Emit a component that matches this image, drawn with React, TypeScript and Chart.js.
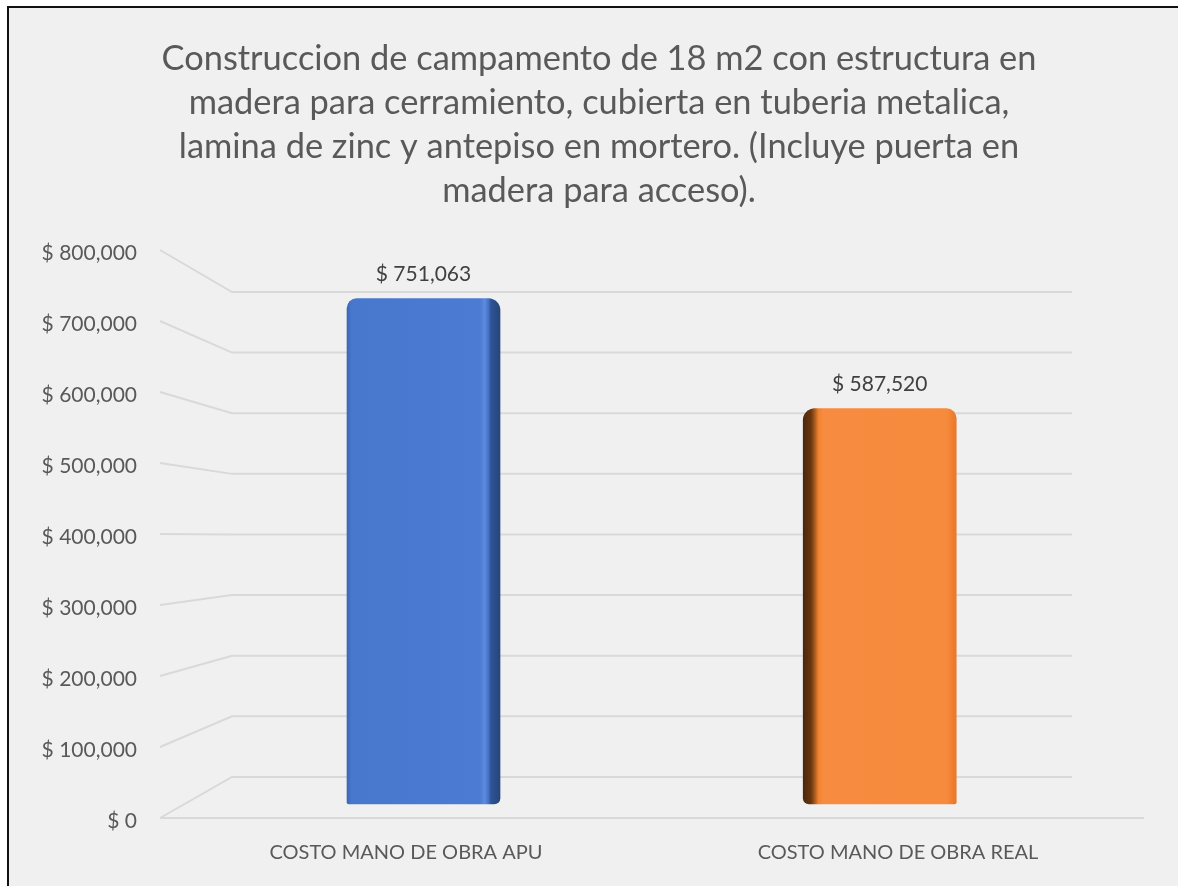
import React, { useEffect, useRef } from 'react';
import { Chart, registerables } from 'chart.js';

Chart.register(...registerables);

// ---------- data ----------
const TITLE_LINES = [
  'Construccion de campamento de 18 m2 con estructura en',
  'madera para cerramiento, cubierta en tuberia metalica,',
  'lamina de zinc y antepiso en mortero. (Incluye puerta en',
  'madera para acceso).',
];
const CATEGORIES = ['COSTO MANO DE OBRA APU', 'COSTO MANO DE OBRA REAL'];
const COSTS = [751063, 587520];
const Y_MIN = 0;
const Y_MAX = 800000;
const Y_STEP = 100000;

// ---------- styles ----------
const FONT = 'Lato, "Open Sans", sans-serif';
const TEXT_GREY = '#595959';
const LABEL_DARK = '#404040';
const GRID = '#d9d9d9';
const BAR_W = 153;
const WALL_DEPTH_X = 72;
const FLAT_COLORS = ['#4979d0', '#f68a3d'];
const BAR_STOPS: [number, string][][] = [
  [
    [0, '#3a67b8'],
    [0.03, '#4878cd'],
    [0.5, '#4979d0'],
    [0.87, '#4b7bd3'],
    [0.9, '#5d8cdc'],
    [0.925, '#4372c6'],
    [0.94, '#2f5596'],
    [1, '#26457b'],
  ],
  [
    [0, '#4d2709'],
    [0.05, '#673611'],
    [0.075, '#a9581b'],
    [0.1, '#f08330'],
    [0.13, '#f78c40'],
    [0.94, '#f68a3d'],
    [0.975, '#ef7f2f'],
    [1, '#e8772a'],
  ],
];
const BAR_RADII = [
  { topLeft: 10, topRight: 12, bottomLeft: 2, bottomRight: 6 },
  { topLeft: 12, topRight: 10, bottomLeft: 6, bottomRight: 2 },
];

const money = (v: number) => '$ ' + Math.round(v).toLocaleString('en-US');

const perspectiveGrid = {
  id: 'perspectiveGrid',
  beforeDatasetsDraw(chart: any) {
    const { ctx, chartArea } = chart;
    const yF = chart.scales.y;
    const yB = chart.scales.yBack;
    const left = chartArea.left;
    const right = chartArea.right;
    const backL = left + WALL_DEPTH_X;
    const backR = right - WALL_DEPTH_X;
    ctx.save();
    ctx.strokeStyle = GRID;
    ctx.lineWidth = 2;
    yF.ticks.forEach((t: any) => {
      const yf = yF.getPixelForValue(t.value);
      const yb = yB.getPixelForValue(t.value);
      ctx.beginPath();
      ctx.moveTo(left, yf);
      ctx.lineTo(backL, yb);
      ctx.lineTo(backR, yb);
      ctx.stroke();
    });
    const y0 = yF.getPixelForValue(Y_MIN);
    ctx.beginPath();
    ctx.moveTo(left, y0);
    ctx.lineTo(right, y0);
    ctx.stroke();
    ctx.restore();
  },
};

const valueLabels = {
  id: 'valueLabels',
  afterDatasetsDraw(chart: any) {
    const { ctx } = chart;
    const meta = chart.getDatasetMeta(0);
    ctx.save();
    ctx.font = `21px ${FONT}`;
    ctx.fillStyle = LABEL_DARK;
    ctx.textAlign = 'center';
    ctx.textBaseline = 'middle';
    meta.data.forEach((el: any, i: number) => {
      ctx.fillText(money(COSTS[i]), el.x, el.y - 24);
    });
    ctx.restore();
  },
};

export default function App() {
  const ref = useRef<HTMLCanvasElement | null>(null);

  useEffect(() => {
    if (!ref.current) return;
    const chart = new Chart(ref.current, {
      type: 'bar',
      data: {
        labels: CATEGORIES,
        datasets: [
          {
            data: COSTS.map((v, i) => ({ x: i, y: v })) as any,
            xAxisID: 'xb',
            yAxisID: 'yb',
            barThickness: BAR_W,
            borderRadius: (c: any) => BAR_RADII[c.dataIndex] || 0,
            borderSkipped: false,
            backgroundColor: (c: any) => {
              const ch = c.chart;
              const i = c.dataIndex || 0;
              const xs = ch.scales && ch.scales.xb;
              if (!xs || c.type !== 'data') return FLAT_COLORS[i];
              const cx = xs.getPixelForValue(i);
              if (!isFinite(cx)) return FLAT_COLORS[i];
              const g = ch.ctx.createLinearGradient(cx - BAR_W / 2, 0, cx + BAR_W / 2, 0);
              BAR_STOPS[i].forEach(([o, col]) => g.addColorStop(o, col));
              return g;
            },
          },
        ],
      },
      options: {
        responsive: false,
        animation: false,
        events: [],
        layout: { padding: { left: 0, right: 0, top: 0, bottom: 0 } },
        plugins: {
          legend: { display: false },
          tooltip: { enabled: false },
          title: {
            display: true,
            text: TITLE_LINES,
            color: TEXT_GREY,
            font: { family: FONT, size: 34.4, weight: 'normal', lineHeight: 44 / 34.4 },
            padding: { top: 29, bottom: 37 },
          },
        },
        scales: {
          x: {
            type: 'category',
            offset: true,
            grid: { display: false, drawTicks: false },
            border: { display: false },
            ticks: {
              color: TEXT_GREY,
              font: { family: FONT, size: 20 },
              padding: 23,
              maxRotation: 0,
            },
            afterFit: (s: any) => {
              s.height = 68;
            },
          },
          xb: {
            type: 'linear',
            display: false,
            offset: false,
            grid: { offset: false },
            min: -0.5776,
            max: 1.5793,
          },
          y: {
            type: 'linear',
            position: 'left',
            min: Y_MIN,
            max: Y_MAX,
            grid: { display: false, drawTicks: false },
            border: { display: false },
            ticks: {
              stepSize: Y_STEP,
              color: TEXT_GREY,
              font: { family: FONT, size: 21 },
              padding: 23,
              labelOffset: 3,
              callback: (v: any) => money(Number(v)),
            },
            afterFit: (s: any) => {
              s.width = 151;
            },
          },
          yRightGap: {
            type: 'linear',
            position: 'right',
            display: true,
            grid: { display: false, drawTicks: false },
            border: { display: false },
            ticks: { display: false },
            afterFit: (s: any) => {
              s.width = 45;
            },
          },
          yb: {
            type: 'linear',
            display: false,
            min: -20802,
            max: 823180,
          },
          yBack: {
            type: 'linear',
            display: false,
            min: -67629,
            max: 869278,
          },
        },
      } as any,
      plugins: [perspectiveGrid, valueLabels],
    });
    return () => chart.destroy();
  }, []);

  return (
    <div
      style={{
        position: 'fixed',
        top: 6,
        left: 7,
        width: 1171,
        height: 880,
        boxSizing: 'border-box',
        borderTop: '2px solid #111',
        borderLeft: '2px solid #111',
        background: '#f0f0f0',
        overflow: 'hidden',
      }}
    >
      <canvas ref={ref} width={1180} height={878} style={{ display: 'block', width: 1180, height: 878 }} />
    </div>
  );
}
